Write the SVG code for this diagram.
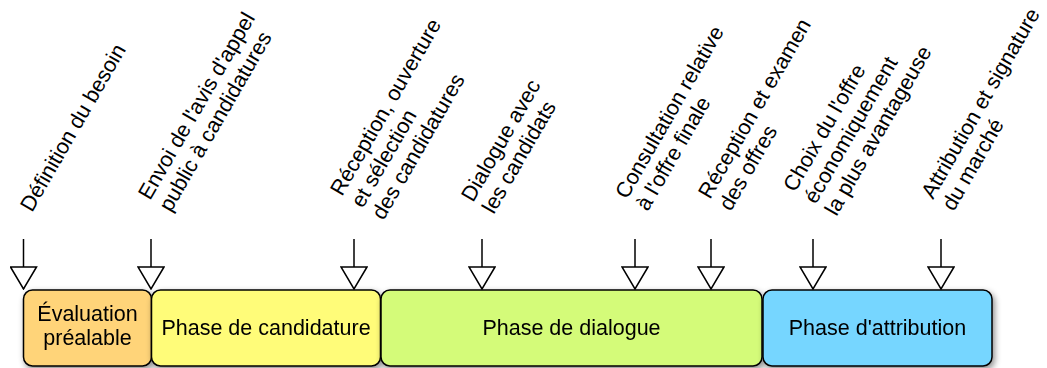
<svg xmlns="http://www.w3.org/2000/svg" width="1047" height="368" viewBox="0 0 1047 368">
  <defs>
    <filter id="shadow" x="-10%" y="-20%" width="120%" height="150%">
      <feDropShadow dx="2" dy="3" stdDeviation="3" flood-color="#000" flood-opacity="0.45"/>
    </filter>
    <!-- open triangular head, drawn pointing along +x so orient="auto" aims it down the line -->
    <marker id="head" viewBox="0 0 24 28" refX="23" refY="14" markerWidth="24" markerHeight="28" markerUnits="userSpaceOnUse" orient="auto">
      <path d="M1,1 L23,14 L1,27 Z" fill="#fff" stroke="#000" stroke-width="1.5" stroke-linejoin="miter"/>
    </marker>
  </defs>
  <style>
    text { font-family: "Liberation Sans", Arial, Helvetica, sans-serif; fill: #000; }
    .label { font-size: 21.5px; }
    .phase { font-size: 21.5px; text-anchor: middle; }
    .box { stroke: #000; stroke-width: 1.5; }
    .arrow { stroke: #000; stroke-width: 1.5; fill: none; }
  </style>

  <!-- phases -->
  <g id="evaluation" filter="url(#shadow)">
    <rect class="box" x="23.5" y="290" width="128" height="76" rx="9" fill="#FFD479"/>
    <text class="phase" x="87.5" y="321">Évaluation</text>
    <text class="phase" x="87.5" y="345">préalable</text>
  </g>
  <g id="candidature" filter="url(#shadow)">
    <rect class="box" x="151.5" y="290" width="229" height="76" rx="9" fill="#FFFC79"/>
    <text class="phase" x="266" y="335">Phase de candidature</text>
  </g>
  <g id="dialogue" filter="url(#shadow)">
    <rect class="box" x="381" y="290" width="381" height="76" rx="9" fill="#D4FB79"/>
    <text class="phase" x="571.5" y="335">Phase de dialogue</text>
  </g>
  <g id="attribution" filter="url(#shadow)">
    <rect class="box" x="763" y="290" width="229" height="76" rx="9" fill="#76D6FF"/>
    <text class="phase" x="877.5" y="335">Phase d'attribution</text>
  </g>

  <!-- step arrows -->
  <g id="connectors">
    <line class="arrow" x1="23.5" y1="239" x2="23.5" y2="289" marker-end="url(#head)"/>
    <line class="arrow" x1="151" y1="239" x2="151" y2="289" marker-end="url(#head)"/>
    <line class="arrow" x1="354" y1="239" x2="354" y2="289" marker-end="url(#head)"/>
    <line class="arrow" x1="482" y1="239" x2="482" y2="289" marker-end="url(#head)"/>
    <line class="arrow" x1="635" y1="239" x2="635" y2="289" marker-end="url(#head)"/>
    <line class="arrow" x1="711" y1="239" x2="711" y2="289" marker-end="url(#head)"/>
    <line class="arrow" x1="813" y1="239" x2="813" y2="289" marker-end="url(#head)"/>
    <line class="arrow" x1="941" y1="239" x2="941" y2="289" marker-end="url(#head)"/>
  </g>

  <!-- step labels -->
  <g id="step-definition">
    <text class="label" transform="translate(32,213) rotate(-60)">Définition du besoin</text>
  </g>
  <g id="step-envoi">
    <text class="label" transform="translate(150,201) rotate(-60)"><tspan x="0" y="0">Envoi de l'avis d'appel</tspan><tspan x="0" y="24">public à candidatures</tspan></text>
  </g>
  <g id="step-reception-candidatures">
    <text class="label" transform="translate(342,197) rotate(-60)"><tspan x="0" y="0">Réception, ouverture</tspan><tspan x="0" y="24">et sélection</tspan><tspan x="0" y="48">des candidatures</tspan></text>
  </g>
  <g id="step-dialogue">
    <text class="label" transform="translate(473,203) rotate(-60)"><tspan x="0" y="0">Dialogue avec</tspan><tspan x="0" y="24">les candidats</tspan></text>
  </g>
  <g id="step-consultation">
    <text class="label" transform="translate(627,200) rotate(-60)"><tspan x="0" y="0">Consultation relative</tspan><tspan x="0" y="24">à l'offre finale</tspan></text>
  </g>
  <g id="step-reception-offres">
    <text class="label" transform="translate(710,200) rotate(-60)"><tspan x="0" y="0">Réception et examen</tspan><tspan x="0" y="24">des offres</tspan></text>
  </g>
  <g id="step-choix">
    <text class="label" transform="translate(795,193) rotate(-60)"><tspan x="0" y="0">Choix du l'offre</tspan><tspan x="0" y="24">économiquement</tspan><tspan x="0" y="48">la plus avantageuse</tspan></text>
  </g>
  <g id="step-attribution">
    <text class="label" transform="translate(933,200) rotate(-60)"><tspan x="0" y="0">Attribution et signature</tspan><tspan x="0" y="24">du marché</tspan></text>
  </g>
</svg>
